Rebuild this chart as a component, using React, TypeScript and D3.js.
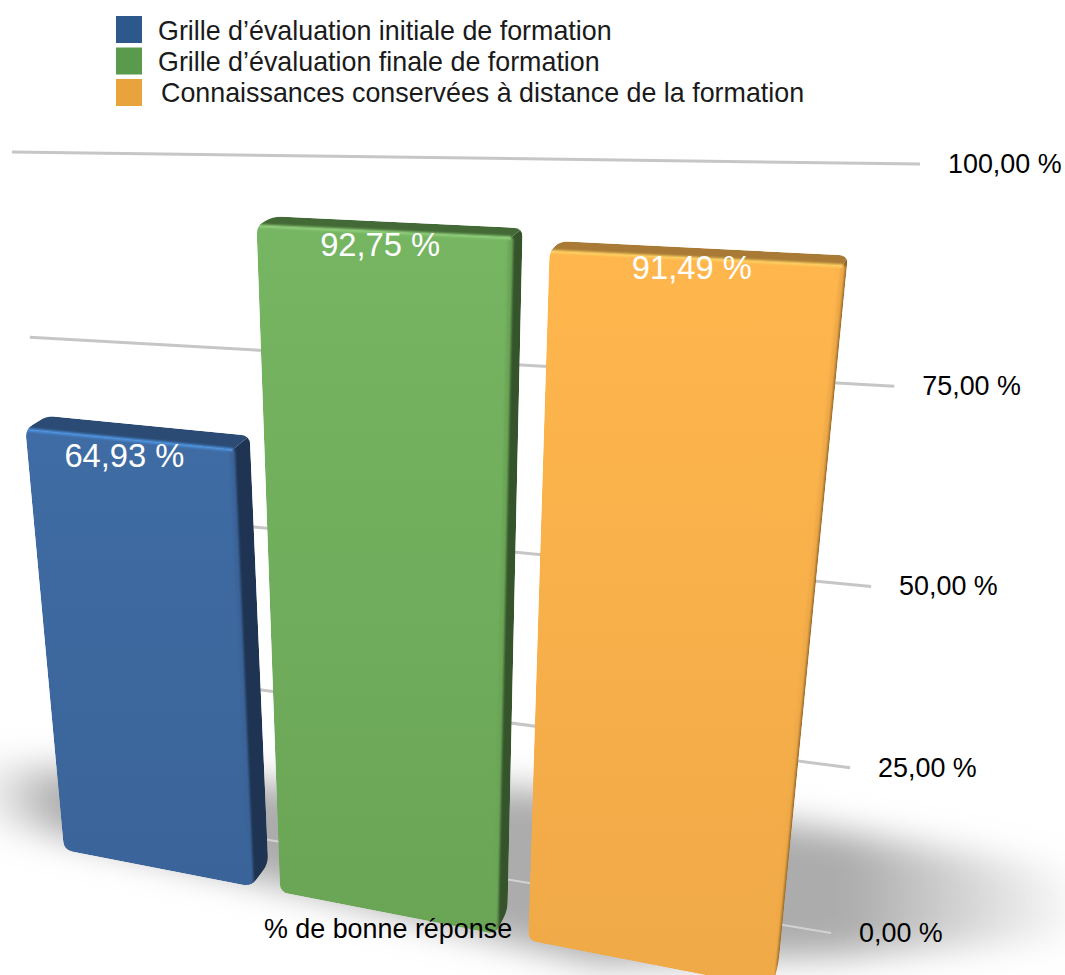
import React from "react";
import * as d3 from "d3";

const categories = [
  "Grille d’évaluation initiale de formation",
  "Grille d’évaluation finale de formation",
  "Connaissances conservées à distance de la formation",
];
const values = [64.93, 92.75, 91.49];
const axisTicks = [0, 25, 50, 75, 100];
const axisTitle = "% de bonne réponse";

const legendColors = ["#2c588c", "#5a9a4c", "#e8a33d"];
const palettes = [
  { top: "#3f6ca4", bottom: "#3a6499", rim: "#4d94e2", lid: "#2b4b75", side: "#1f3452" },
  { top: "#76b562", bottom: "#6aa556", rim: "#90cf7a", lid: "#436a36", side: "#35542b" },
  { top: "#ffb64d", bottom: "#efa947", rim: "#ffd060", lid: "#a87a36", side: "#8f6428" },
];
const labelDrop = [28, 24, 21];
const labelNudge = [-2, 0, 0];
const legendX = [158, 158, 161];

type Pt = [number, number];

// maps the unit square onto a quad: (0,0) BL, (1,0) BR, (1,1) TR, (0,1) TL
function homography(p0: Pt, p1: Pt, p2: Pt, p3: Pt) {
  const dx1 = p1[0] - p2[0], dx2 = p3[0] - p2[0], sx = p0[0] - p1[0] + p2[0] - p3[0];
  const dy1 = p1[1] - p2[1], dy2 = p3[1] - p2[1], sy = p0[1] - p1[1] + p2[1] - p3[1];
  const det = dx1 * dy2 - dx2 * dy1;
  const g = (sx * dy2 - dx2 * sy) / det;
  const h = (dx1 * sy - sx * dy1) / det;
  const a = p1[0] - p0[0] + g * p1[0], b = p3[0] - p0[0] + h * p3[0];
  const d = p1[1] - p0[1] + g * p1[1], e = p3[1] - p0[1] + h * p3[1];
  return (u: number, v: number): Pt => {
    const w = g * u + h * v + 1;
    return [(a * u + b * v + p0[0]) / w, (d * u + e * v + p0[1]) / w];
  };
}

const gridPlane = homography([75, 808], [831, 933], [920, 164], [12, 152]);
const barPlane = homography([64, 850], [772, 988], [851, 182], [0, 154]);

const yUnit = d3.scaleLinear().domain([0, 100]).range([0, 1]);
const barY = d3.scalePow().exponent(1.02).domain([0, 100]).range([0, 1]);
const xBand = d3.scaleBand<number>().domain(d3.range(categories.length)).range([0, 1]).paddingInner(0.125);
// a little extra foreshortening along the row of bars
const xWarp = d3.scalePow().exponent(1.0255).domain([0, 1]).range([0, 1]);
const fmt = (v: number) => `${v.toFixed(2).replace(".", ",")} %`;

// bars are extruded towards a vanishing point up and to the right
const VANISH: Pt = [1100, -250];
const DEPTH = 0.02;
const back = (p: Pt): Pt => [p[0] + DEPTH * (VANISH[0] - p[0]), p[1] + DEPTH * (VANISH[1] - p[1])];

const poly = d3.line().curve(d3.curveLinearClosed);

// closed polygon with its corners cut by quadratic curves
function roundPoly(pts: Pt[], r: number) {
  const path = d3.path();
  pts.forEach((p, i) => {
    const prev = pts[(i + pts.length - 1) % pts.length];
    const next = pts[(i + 1) % pts.length];
    const toward = (q: Pt): Pt => {
      const len = Math.hypot(q[0] - p[0], q[1] - p[1]);
      const t = Math.min(r, len / 2) / len;
      return [p[0] + (q[0] - p[0]) * t, p[1] + (q[1] - p[1]) * t];
    };
    const a = toward(prev);
    const b = toward(next);
    if (i === 0) path.moveTo(a[0], a[1]);
    else path.lineTo(a[0], a[1]);
    path.quadraticCurveTo(p[0], p[1], b[0], b[1]);
  });
  path.closePath();
  return path.toString();
}

const shadowBody: Pt[] = [
  [-40, 762], [300, 785], [520, 788], [800, 825], [1000, 858], [1130, 885], [1130, 935], [840, 956], [600, 965], [300, 890], [60, 835], [-40, 815],
];

export default function App() {
  return (
    <svg width={1065} height={975} style={{ position: "absolute", left: 0, top: 0 }} fontFamily="'Liberation Sans', Arial, sans-serif">
      <defs>
        <filter id="floorBlur" x="-20%" y="-50%" width="140%" height="200%">
          <feGaussianBlur stdDeviation="17" />
        </filter>
        <filter id="rimBlur" x="-20%" y="-20%" width="140%" height="140%" filterUnits="userSpaceOnUse">
          <feGaussianBlur stdDeviation="1.3" />
        </filter>
        <linearGradient id="floorFade" gradientUnits="userSpaceOnUse" x1="-10" x2="1090" y1="0" y2="0">
          <stop offset="0" stopColor="#acacac" stopOpacity="0.15" />
          <stop offset="0.065" stopColor="#acacac" stopOpacity="1" />
          <stop offset="0.78" stopColor="#acacac" stopOpacity="1" />
          <stop offset="1" stopColor="#acacac" stopOpacity="0" />
        </linearGradient>
        {palettes.map((p, i) => (
          <linearGradient key={i} id={`front${i}`} x1="0" x2="0" y1="0" y2="1">
            <stop offset="0" stopColor={p.top} />
            <stop offset="1" stopColor={p.bottom} />
          </linearGradient>
        ))}
      </defs>

      <path d={poly(shadowBody) ?? ""} fill="url(#floorFade)" filter="url(#floorBlur)" />

      {axisTicks.map((t) => {
        const a = gridPlane(0, yUnit(t));
        const b = gridPlane(1, yUnit(t));
        return (
          <g key={t}>
            <line x1={a[0]} y1={a[1]} x2={b[0]} y2={b[1]} stroke={t === 0 ? "#d2d2d2" : "#c6c6c6"} strokeWidth={t === 0 ? 2 : 3} />
            <text x={b[0] + 28} y={b[1] + 9} fontSize={26.9} fill="#000">{fmt(t)}</text>
          </g>
        );
      })}

      {values.map((v, i) => {
        const u0 = xWarp(xBand(i)!);
        const u1 = xWarp(xBand(i)! + xBand.bandwidth());
        const tl = barPlane(u0, barY(v));
        const tr = barPlane(u1, barY(v));
        const br = barPlane(u1, 0);
        const bl = barPlane(u0, 0);
        const p = palettes[i];
        const labelAt = barPlane((u0 + u1) / 2, barY(v));
        const silhouette = roundPoly([tl, back(tl), back(tr), back(br), br, bl], 9);
        return (
          <g key={i}>
            <clipPath id={`bar${i}`}><path d={silhouette} /></clipPath>
            <g clipPath={`url(#bar${i})`}>
              <path d={poly([tr, br, back(br), back(tr)]) ?? ""} fill={p.side} />
              <path d={poly([tl, tr, back(tr), back(tl)]) ?? ""} fill={p.lid} />
              <path d={roundPoly([tl, tr, br, bl], 5)} fill={`url(#front${i})`} />
              <line x1={tr[0]} y1={tr[1]} x2={br[0]} y2={br[1]} stroke={p.bottom} strokeWidth={5} filter="url(#rimBlur)" />
              <line x1={tl[0]} y1={tl[1]} x2={tr[0]} y2={tr[1]} stroke={p.rim} strokeWidth={3} filter="url(#rimBlur)" />
            </g>
            <text x={labelAt[0] + labelNudge[i]} y={labelAt[1] + labelDrop[i]} textAnchor="middle" fontSize={32.7} fill="#fff">{fmt(v)}</text>
          </g>
        );
      })}

      <text x={388} y={938} textAnchor="middle" fontSize={26.9} fill="#000">{axisTitle}</text>

      {categories.map((c, i) => (
        <g key={c}>
          <rect x={116} y={16 + i * 31.5} width={26} height={27} fill={legendColors[i]} />
          <text x={legendX[i]} y={40 + i * 31} fontSize={26.85} fill="#1a1a1a">{c}</text>
        </g>
      ))}
    </svg>
  );
}
